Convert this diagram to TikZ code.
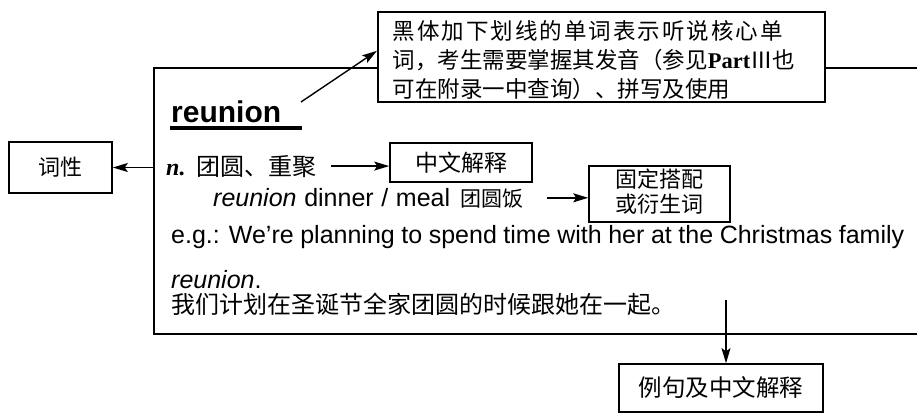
\documentclass[tikz,border=0pt]{standalone}
\usepackage{fontspec}
\setmainfont{Liberation Sans}
\newfontfamily\cjk{Noto Sans CJK SC}
\newfontfamily\tnr{Liberation Serif}
\usetikzlibrary{arrows.meta}
\newcommand\myfs[1]{\fontsize{#1}{#1}\selectfont}
\begin{document}
\begin{tikzpicture}[x=1pt,y=-1pt,
  frame/.style={draw, line width=1.6pt, inner sep=0pt, fill=white},
  conn/.style={line width=1.4pt, -{Stealth[length=15pt,width=9pt,inset=3pt]}},
  txt/.style={inner sep=0pt, anchor=base west},
]
\useasboundingbox (0,0) rectangle (917,413);
% main entry frame (runs off the right edge)
\node[draw, line width=1.8pt, minimum width=790pt, minimum height=266pt, anchor=north west, inner sep=0pt] (main) at (153,67) {};
% note box
\node[frame, anchor=north west, minimum width=447pt, minimum height=90pt, text width=417pt, inner xsep=15pt, align=left, font=\cjk\fontsize{22.5}{29}\selectfont] (note) at (377,11)
{\rule{0pt}{26pt}\makebox[390pt][s]{黑\hfill 体\hfill 加\hfill 下\hfill 划\hfill 线\hfill 的\hfill 单\hfill 词\hfill 表\hfill 示\hfill 听\hfill 说\hfill 核\hfill 心\hfill 单}\\
词，考生需要掌握其发音（参见{\tnr\bfseries Part}Ⅲ也\\
可在附录一中查询）、拼写及使用};
% headword
\node[txt, font=\bfseries\myfs{30}] (word) at (171,122) {reunion};
\draw[line width=3.5pt] (170,128) -- (302,128);
\coordinate (wordend) at (301,102);
\draw[conn] (wordend) -- ([yshift=6pt]note.west);
% part of speech
\node[frame, minimum width=103pt, minimum height=51pt, font=\cjk\myfs{22}] (pos) at (60.5,167.5) {词性};
\draw[conn] (pos.east -| main.west) -- (pos.east);
% meaning line
\node[txt, font=\myfs{24}] (nline) at (166,175) {{\tnr\bfseries\itshape n.}\hspace{11pt}{\cjk 团圆、重聚}};
\node[frame, minimum width=142pt, minimum height=39pt, font=\cjk\myfs{23}] (cn) at (461,162.5) {中文解释};
\draw[conn] ([xshift=14pt]nline.east) -- (nline.east -| cn.west);
% collocation line
\node[txt, font=\myfs{25}] (dinner) at (213,206) {\makebox[237pt][s]{\textit{reunion} dinner / meal}\hspace{10pt}{\cjk\myfs{21}团圆饭}};
\node[frame, minimum width=141pt, minimum height=56pt, font=\cjk\fontsize{22}{22}\selectfont] (coll) at (659.5,194) {\raisebox{5pt}{\begin{tabular}{@{}c@{}}固定搭配\\或衍生词\end{tabular}}};
\draw[conn] ([xshift=24pt]dinner.east) -- (dinner.east -| coll.west);
% example
\node[txt, font=\myfs{25}] (eg) at (171,243) {\makebox[733pt][s]{e.g.: We're planning to spend time with her at the Christmas family}};
\node[txt, font=\myfs{25}] (eg2) at (171,288) {\textit{reunion}.};
\node[txt, font=\cjk\myfs{24}] (zh) at (171,313) {我们计划在圣诞节全家团圆的时候跟她在一起。};
% example explanation box
\node[frame, minimum width=204pt, minimum height=48pt, font=\cjk\myfs{23.5}] (ex) at (721,388) {例句及中文解释};
\coordinate (exs) at (726,300);
\draw[conn] (exs) -- (exs |- ex.north);
\end{tikzpicture}
\end{document}
